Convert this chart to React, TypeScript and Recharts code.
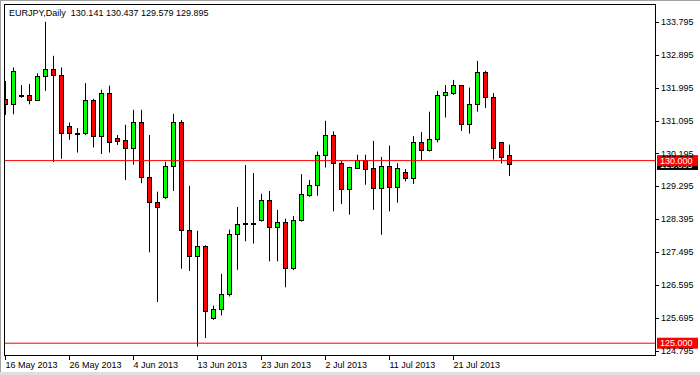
import React from "react";
import { ComposedChart, Bar, XAxis, YAxis, ReferenceLine } from "recharts";

/* ── Data: EURJPY daily candles, 16 May – 29 Jul 2013 ── */
const dates = [
  "16 May 2013", "17 May 2013", "19 May 2013", "20 May 2013", "21 May 2013", "22 May 2013", "23 May 2013",
  "24 May 2013", "26 May 2013", "27 May 2013", "28 May 2013", "29 May 2013", "30 May 2013", "31 May 2013",
  "2 Jun 2013", "3 Jun 2013", "4 Jun 2013", "5 Jun 2013", "6 Jun 2013", "7 Jun 2013", "9 Jun 2013",
  "10 Jun 2013", "11 Jun 2013", "12 Jun 2013", "13 Jun 2013", "14 Jun 2013", "16 Jun 2013", "17 Jun 2013",
  "18 Jun 2013", "19 Jun 2013", "20 Jun 2013", "21 Jun 2013", "23 Jun 2013", "24 Jun 2013", "25 Jun 2013",
  "26 Jun 2013", "27 Jun 2013", "28 Jun 2013", "30 Jun 2013", "1 Jul 2013", "2 Jul 2013", "3 Jul 2013",
  "4 Jul 2013", "5 Jul 2013", "7 Jul 2013", "8 Jul 2013", "9 Jul 2013", "10 Jul 2013", "11 Jul 2013",
  "12 Jul 2013", "14 Jul 2013", "15 Jul 2013", "16 Jul 2013", "17 Jul 2013", "18 Jul 2013", "19 Jul 2013",
  "21 Jul 2013", "22 Jul 2013", "23 Jul 2013", "24 Jul 2013", "25 Jul 2013", "26 Jul 2013", "28 Jul 2013",
  "29 Jul 2013",
];

const opens = [
  131.68, 131.54, 131.78, 131.80, 131.65, 132.31, 132.51, 132.35, 130.94, 130.75, 130.75, 131.66, 130.66, 131.85,
  130.61, 130.56, 130.34, 131.05, 129.55, 128.88, 128.99, 129.84, 131.05, 128.10, 127.39, 127.67, 125.68, 125.93,
  126.35, 127.99, 128.27, 128.28, 128.37, 128.92, 128.18, 128.32, 127.06, 128.37, 129.05, 129.33, 130.15, 130.70,
  129.93, 129.22, 129.81, 130.01, 129.79, 129.24, 129.85, 129.29, 129.68, 129.52, 130.50, 130.29, 130.59, 131.79,
  131.84, 132.06, 131.00, 131.55, 132.42, 131.74, 130.50, 130.141,
];
const highs = [
  132.18, 132.55, 132.07, 132.10, 132.39, 133.80, 132.87, 132.55, 131.04, 130.89, 132.12, 131.69, 131.94, 132.05,
  130.70, 130.98, 131.39, 131.39, 130.70, 129.15, 129.97, 131.28, 131.11, 129.31, 128.08, 127.68, 126.03, 126.90,
  128.11, 128.73, 129.88, 129.66, 129.09, 129.17, 128.65, 128.41, 128.48, 129.63, 129.47, 130.25, 131.09, 130.80,
  130.00, 129.83, 130.16, 130.16, 130.54, 130.10, 130.41, 129.93, 129.77, 130.67, 130.78, 131.34, 131.91, 132.07,
  132.21, 132.07, 132.00, 132.73, 132.46, 131.85, 130.51, 130.437,
];
const lows = [
  131.25, 131.27, 131.72, 131.54, 131.64, 131.91, 129.96, 130.05, 130.57, 130.22, 130.70, 130.36, 130.18, 130.22,
  130.43, 129.47, 129.89, 129.38, 127.49, 126.13, 128.95, 129.17, 127.04, 126.98, 124.91, 125.14, 125.64, 125.76,
  126.28, 127.01, 127.79, 127.73, 128.33, 127.24, 127.24, 126.53, 127.00, 128.33, 129.01, 129.04, 129.81, 128.61,
  128.81, 128.52, 129.78, 129.34, 128.65, 127.97, 128.61, 128.85, 129.43, 129.36, 130.00, 130.25, 130.50, 131.18,
  131.80, 130.81, 130.74, 131.34, 131.44, 130.03, 129.92, 129.579,
];
const closes = [
  131.54, 132.44, 131.80, 131.65, 132.31, 132.51, 132.34, 130.75, 130.75, 130.76, 131.65, 130.66, 131.85, 130.52,
  130.55, 130.34, 131.05, 129.55, 128.88, 128.74, 129.86, 131.05, 128.09, 127.39, 127.67, 125.87, 125.93, 126.35,
  127.99, 128.26, 128.28, 128.29, 128.92, 128.19, 128.32, 127.06, 128.37, 129.08, 129.33, 130.15, 130.70, 129.93,
  129.22, 129.82, 130.01, 129.78, 129.24, 129.85, 129.29, 129.79, 129.52, 130.50, 130.29, 130.59, 131.79, 131.87,
  132.06, 131.00, 131.55, 132.42, 131.74, 130.34, 130.11, 129.895,
];

const dateTicks = [
  "16 May 2013", "26 May 2013", "4 Jun 2013", "13 Jun 2013",
  "23 Jun 2013", "2 Jul 2013", "11 Jul 2013", "21 Jul 2013",
];
const priceTicks = [
  124.795, 125.695, 126.595, 127.495, 128.395, 129.295,
  130.195, 131.095, 131.995, 132.895, 133.795,
];
const levels = [130, 125];
const symbol = "EURJPY,Daily";

const FONT = '"Liberation Sans", Arial, sans-serif';
const last = dates.length - 1;
const lastClose = closes[last];

const candles = dates.map((date, i) => ({
  date, open: opens[i], high: highs[i], low: lows[i], close: closes[i],
}));
// empty slots on the right (chart shift)
const rows: any[] = [...candles, ...Array.from({ length: 17 }, (_, i) => ({ date: `_${i}` }))];

/* ── Candle drawn from the high/low range bar ── */
function Candle(props: any) {
  const { x, y, width, height, payload } = props;
  if (!payload || payload.high == null || !isFinite(height)) return <g />;
  const top = Math.min(y, y + height);
  const h = Math.abs(height);
  const k = h / (payload.high - payload.low);
  const cx = Math.round(x + width / 2) + 0.5;
  const yo = top + (payload.high - payload.open) * k;
  const yc = top + (payload.high - payload.close) * k;
  const b0 = Math.round(Math.min(yo, yc)) + 0.5;
  const b1 = Math.max(Math.round(Math.max(yo, yc)) + 0.5, b0 + 1);
  const up = payload.close >= payload.open;
  return (
    <g>
      <line x1={cx} x2={cx} y1={top} y2={top + h} stroke="#000" strokeWidth={1} />
      <rect x={cx - 2} y={b0} width={4} height={b1 - b0}
        fill={up ? "#00ff00" : "#ff0000"} stroke="#000" strokeWidth={1} />
    </g>
  );
}

function DateTick({ x, y, payload }: any) {
  const tx = Math.round(x) + 0.5;
  return (
    <g>
      <line x1={tx} x2={tx} y1={y} y2={y + 5} stroke="#000" />
      <text x={tx} y={y + 13} fontSize={9} fontFamily={FONT} fill="#000">{payload.value}</text>
    </g>
  );
}

function PriceTick({ x, y, payload }: any) {
  const ty = Math.round(y) + 0.5;
  return (
    <g>
      <line x1={x} x2={x + 4} y1={ty} y2={ty} stroke="#000" />
      <text x={x + 6} y={y} dy="0.35em" fontSize={9} fontFamily={FONT} fill="#000">
        {payload.value.toFixed(3)}
      </text>
    </g>
  );
}

function PriceBox({ viewBox, price, bg }: any) {
  if (!viewBox) return null;
  const left = viewBox.x + viewBox.width + 2;
  return (
    <g>
      <rect x={left} y={viewBox.y - 5.5} width={41} height={11} fill={bg} />
      <text x={left + 3} y={viewBox.y} dy="0.35em" fontSize={9} fontFamily={FONT} fill="#fff">
        {price.toFixed(3)}
      </text>
    </g>
  );
}

export default function App() {
  const header = `${symbol}  ${opens[last].toFixed(3)} ${highs[last].toFixed(3)} ${lows[last].toFixed(3)} ${closes[last].toFixed(3)}`;
  return (
    <div style={{ position: "absolute", left: 0, top: 0, width: 700, height: 375, background: "#fff", overflow: "hidden" }}>
      <ComposedChart width={700} height={375} data={rows} margin={{ top: 4, right: 0, bottom: 0, left: 1.3 }}>
        <XAxis dataKey="date" type="category" ticks={dateTicks} interval={0} height={20}
          padding={{ left: 0, right: 5.7 }} axisLine={false} tickLine={false}
          tickSize={0} tickMargin={0} tick={<DateTick />} />
        <YAxis orientation="right" type="number" width={45} domain={[124.677, 134.288]}
          allowDataOverflow ticks={priceTicks} interval={0} axisLine={false} tickLine={false}
          tickSize={0} tickMargin={0} tick={<PriceTick />} />
        <Bar dataKey={(d: any) => (d.high == null ? null : [d.low, d.high])}
          shape={(p: any) => <Candle {...p} />} isAnimationActive={false} />
        <ReferenceLine y={lastClose} stroke="none" strokeOpacity={0}
          label={(p: any) => <PriceBox viewBox={p.viewBox} price={lastClose} bg="#000" />} />
        {levels.map((lv) => (
          <ReferenceLine key={lv} y={lv} stroke="#ff0000" strokeWidth={1}
            label={(p: any) => <PriceBox viewBox={p.viewBox} price={lv} bg="#ff0000" />} />
        ))}
      </ComposedChart>
      {/* frame */}
      <div style={{ position: "absolute", left: 0, top: 0, width: 4, height: 356, background: "#fff", pointerEvents: "none" }} />
      <div style={{ position: "absolute", left: 4, top: 4, width: 652, height: 352, boxSizing: "border-box", border: "1px solid #000", pointerEvents: "none" }} />
      <div style={{ position: "absolute", left: 0, top: 0, width: 700, height: 375, boxSizing: "border-box", borderTop: "1px solid #a0a0a0", borderLeft: "1px solid #a0a0a0", pointerEvents: "none" }} />
      <div style={{ position: "absolute", left: 0, top: 372, width: 700, height: 3, background: "#e0e0e0", pointerEvents: "none" }} />
      <div style={{ position: "absolute", left: 9, top: 8, fontSize: 9, lineHeight: "10px", fontFamily: FONT, whiteSpace: "pre", color: "#000" }}>
        {header}
      </div>
    </div>
  );
}
